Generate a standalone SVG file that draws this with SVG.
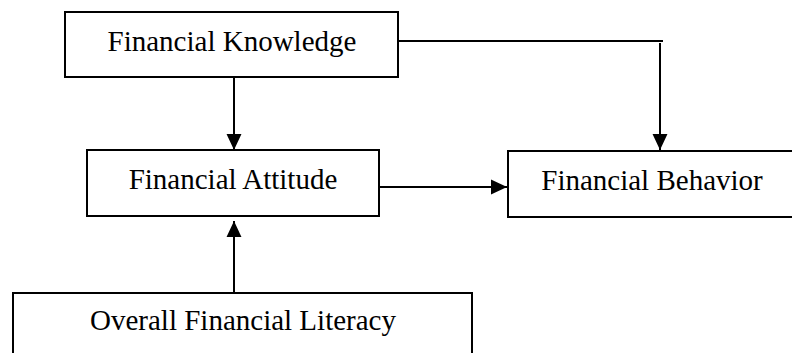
<svg xmlns="http://www.w3.org/2000/svg" width="792" height="353" viewBox="0 0 792 353">
<style>
.box{fill:#fff;stroke:#000;stroke-width:2}
.lbl{font-family:"Liberation Serif","Times New Roman",serif;font-size:29px;fill:#000;text-anchor:middle}
.ln{fill:none;stroke:#000;stroke-width:2}
</style>
<defs>
<marker id="ah" markerUnits="userSpaceOnUse" markerWidth="16" markerHeight="16" viewBox="0 0 15 14" refX="15" refY="7" orient="auto">
<path d="M0,0 L15,7 L0,14 Z" fill="#000"/>
</marker>
</defs>
<rect width="792" height="353" fill="#fff"/>
<g id="connectors">
<line class="ln" x1="234" y1="77" x2="234" y2="150" marker-end="url(#ah)"/>
<line class="ln" x1="395" y1="41" x2="663" y2="41"/>
<line class="ln" x1="660" y1="43" x2="660" y2="150" marker-end="url(#ah)"/>
<line class="ln" x1="379" y1="187" x2="507" y2="187" marker-end="url(#ah)"/>
<line class="ln" x1="234" y1="293" x2="234" y2="221" marker-end="url(#ah)"/>
</g>
<g id="knowledge">
<rect class="box" x="65" y="12" width="333" height="65"/>
<text class="lbl" x="232" y="51">Financial Knowledge</text>
</g>
<g id="attitude">
<rect class="box" x="87" y="150" width="292" height="66"/>
<text class="lbl" x="233" y="189">Financial Attitude</text>
</g>
<g id="behavior">
<rect class="box" x="508" y="151" width="300" height="66"/>
<text class="lbl" x="652" y="190">Financial Behavior</text>
</g>
<g id="overall">
<rect class="box" x="13" y="293" width="459" height="80"/>
<text class="lbl" x="243" y="330">Overall Financial Literacy</text>
</g>
</svg>
